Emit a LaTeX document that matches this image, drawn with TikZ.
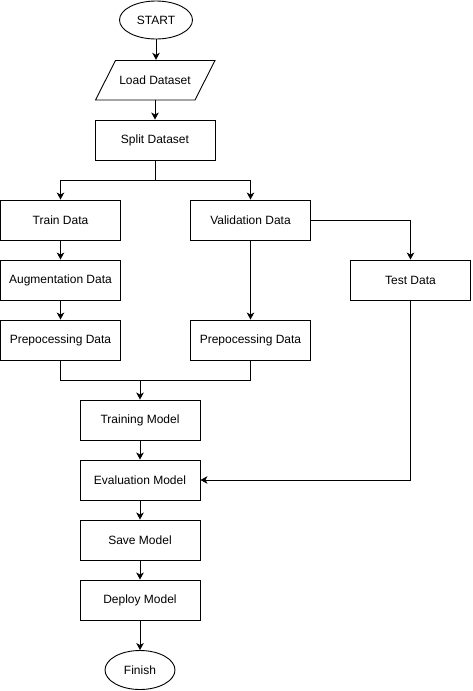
\documentclass[tikz,border=0pt]{standalone}
\usepackage{fontspec}
\setmainfont{Liberation Sans}
\usetikzlibrary{shapes.geometric,arrows.meta}
\begin{document}
\begin{tikzpicture}[x=1pt,y=-1pt,
  every node/.style={font=\fontsize{12}{14}\selectfont, inner sep=0pt},
  box/.style={draw, line width=0.9pt, minimum width=120pt, minimum height=40pt},
  term/.style={draw, line width=0.9pt, ellipse},
  conn/.style={line width=0.9pt, -{Stealth[length=7pt,width=7.5pt,inset=2pt]}},
  plain/.style={line width=0.9pt}]
\useasboundingbox (0,0) rectangle (472,691);
\node[term, minimum width=73pt, minimum height=38pt] (start) at (156,20) {START};
\node[minimum width=100pt, minimum height=40pt] (load) at (155,80) {Load Dataset};
\draw[line width=0.9pt] (115.5,60.5) -- (215,60.5) -- (195,100) -- (95.5,100) -- cycle;
\node[box] (split) at (155,140) {Split Dataset};
\node[box] (train) at (60.5,220) {Train Data};
\node[box] (valid) at (250.5,220) {Validation Data};
\node[box] (aug) at (60.5,280) {Augmentation Data};
\node[box] (preA) at (60.5,340) {Prepocessing Data};
\node[box] (preB) at (250.5,340) {Prepocessing Data};
\node[box] (test) at (410.5,280) {Test Data};
\node[box] (trainm) at (140,420) {Training Model};
\node[box] (evalm) at (140,480) {Evaluation Model};
\node[box] (save) at (140,540) {Save Model};
\node[box] (deploy) at (140,600) {Deploy Model};
\node[term, minimum width=70pt, minimum height=39pt] (finish) at (140,670) {Finish};
\coordinate (sj) at (155,180);
\coordinate (pj) at (140,380);
\draw[conn] (start) -- (start |- load.north);
\draw[conn] (load.south) -- (split);
\draw[plain] (split) -- (sj);
\draw[conn] (sj) -| (train);
\draw[conn] (sj) -| (valid);
\draw[conn] (train) -- (aug);
\draw[conn] (aug) -- (preA);
\draw[conn] (valid) -- (preB);
\draw[conn] (valid) -| (test);
\draw[plain] (preA) |- (pj);
\draw[plain] (preB) |- (pj);
\draw[conn] (pj) -- (trainm);
\draw[conn] (trainm) -- (evalm);
\draw[conn] (test) |- (evalm);
\draw[conn] (evalm) -- (save);
\draw[conn] (save) -- (deploy);
\draw[conn] (deploy) -- (finish);
\end{tikzpicture}
\end{document}
